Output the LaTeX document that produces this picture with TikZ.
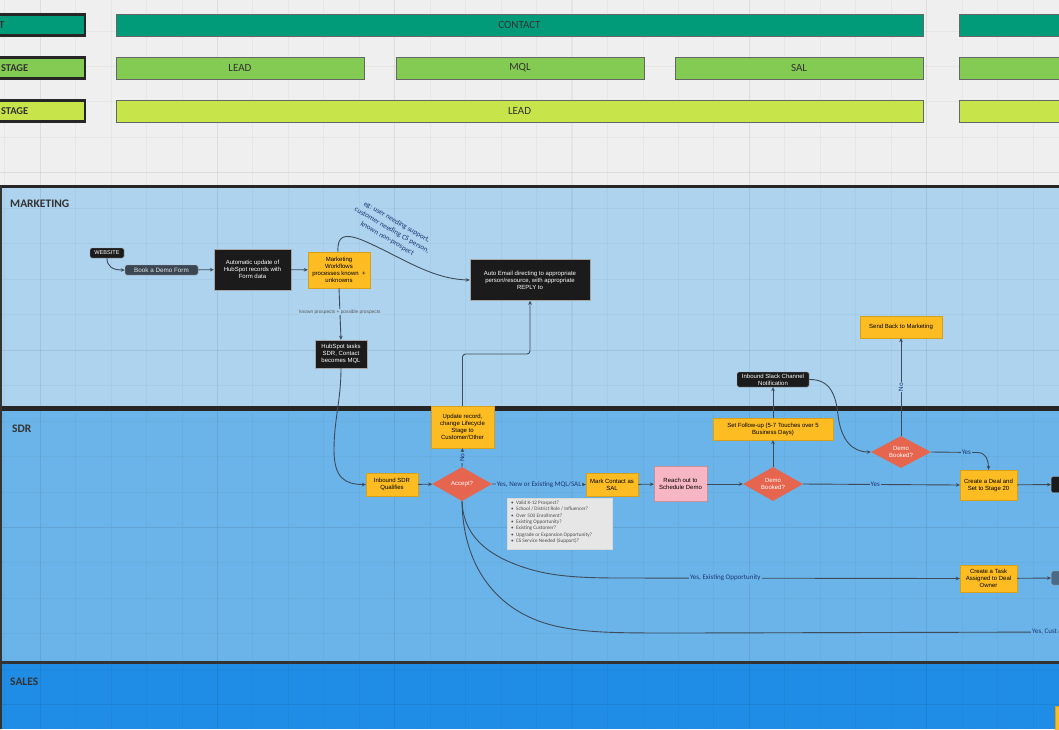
\documentclass[tikz,border=0pt]{standalone}
\usepackage{fontspec}
\setmainfont{Liberation Sans}
\newfontfamily\carl{Carlito}
\usetikzlibrary{shapes.geometric,arrows.meta}
\definecolor{bgc}{HTML}{EFEFEF}
\definecolor{tealc}{HTML}{019B7A}
\definecolor{grnc}{HTML}{83CB52}
\definecolor{limec}{HTML}{C8E44B}
\definecolor{mktc}{HTML}{ADD3EE}
\definecolor{sdrc}{HTML}{6BB4E9}
\definecolor{salc}{HTML}{1F8DE6}
\definecolor{orc}{HTML}{FCBC22}
\definecolor{blkc}{HTML}{1B1B1B}
\definecolor{dgc}{HTML}{3A4652}
\definecolor{redc}{HTML}{E5654F}
\definecolor{pinkc}{HTML}{F6B6C3}
\definecolor{lstc}{HTML}{E6E6E6}
\definecolor{lnc}{HTML}{3D4B5A}
\definecolor{lblc}{HTML}{1E3572}
\definecolor{txc}{HTML}{333333}
\definecolor{slatec}{HTML}{4A6A86}
\begin{document}
\begin{tikzpicture}[x=1pt,y=-1pt,
  nt/.style={font=\fontsize{6}{7}\selectfont, align=center, inner sep=1pt},
  obox/.style={nt, fill=orc, draw=orc!85!black, line width=0.3pt},
  kbox/.style={nt, fill=blkc, draw=gray!70, line width=0.4pt, text=white},
  dia/.style={diamond, nt, fill=redc, text=white, inner sep=0pt, aspect=1.76, minimum width=60, minimum height=34},
  bar/.style={draw=black!60, line width=0.8pt, text=txc, font=\carl\fontsize{11}{13}\selectfont, minimum height=22, inner sep=0pt},
  lbox/.style={draw=black!85, line width=2.5pt, minimum height=21, minimum width=95, inner sep=0pt},
  lbtxt/.style={font=\carl\bfseries\fontsize{10.5}{12}\selectfont, text=txc, anchor=east, inner sep=0pt},
  lane/.style={font=\carl\bfseries\fontsize{11.5}{13}\selectfont, text=black!80, anchor=west, inner sep=0pt},
  arr/.style={draw=lnc, line width=0.9pt, -{Stealth[length=4pt,width=3.6pt]}},
  ln/.style={draw=lnc, line width=0.9pt},
  elab/.style={font=\carl\fontsize{7}{8}\selectfont, text=lblc, inner sep=1pt},
]
\useasboundingbox (0,0) rectangle (1059,729);
\clip (0,0) rectangle (1059,729);
\fill[bgc] (0,0) rectangle (1059,729);
% lanes
\fill[mktc] (0,186) rectangle (1059,406);
\fill[sdrc] (0,406) rectangle (1059,662);
\fill[salc] (0,662) rectangle (1059,729);
% grid
\foreach \i in {-1,...,30} {\draw[black, opacity=0.03, line width=0.6pt] ({40+35.46*\i},0) -- ({40+35.46*\i},729);}
\foreach \i in {0,...,5} {\draw[black, opacity=0.045, line width=1pt] ({40+177.3*\i},0) -- ({40+177.3*\i},729);}
\foreach \i in {-10,...,11} {\draw[black, opacity=0.03, line width=0.6pt] (0,{350+35.46*\i}) -- (1059,{350+35.46*\i});}
\foreach \i in {-1,...,2} {\draw[black, opacity=0.045, line width=1pt] (0,{350+177.3*\i}) -- (1059,{350+177.3*\i});}
% lane borders
\draw[black!85, line width=3pt] (0,186.5) -- (1059,186.5);
\draw[black!85, line width=5pt] (0,408.5) -- (1059,408.5);
\draw[black!80, line width=3.5pt] (0,662.5) -- (1059,662.5);
\draw[black!80, line width=2pt] (1,186) -- (1,729);
\node[lane] (lm) at (10,203.5) {MARKETING};
\node[lane] (ls) at (12,428.5) {SDR};
\node[lane] (lsa) at (10,681.5) {SALES};
% top bars
\node[lbox, fill=tealc] (l1) at (37.5,25) {};
\node[lbtxt] (l1t) at (4.5,25) {T};
\node[lbox, fill=grnc] (l2) at (37.5,68) {};
\node[lbtxt] (l2t) at (28.5,68) {STAGE};
\node[lbox, fill=limec] (l3) at (37.5,111) {};
\node[lbtxt] (l3t) at (28.5,111) {STAGE};
\node[bar, fill=tealc, minimum width=807] (b1) at (519.5,25) {CONTACT};
\node[bar, fill=tealc, minimum width=110] (b1r) at (1014,25) {};
\node[bar, fill=grnc, minimum width=248] (b21) at (240,68) {LEAD};
\node[bar, fill=grnc, minimum width=248] (b22) at (520,68) {MQL};
\node[bar, fill=grnc, minimum width=248] (b23) at (799,68) {SAL};
\node[bar, fill=grnc, minimum width=110] (b2r) at (1014,68) {};
\node[bar, fill=limec, minimum width=807] (b3) at (519.5,111) {LEAD};
\node[bar, fill=limec, minimum width=110] (b3r) at (1014,111) {};
% marketing nodes
\node[kbox, rounded corners=1.5pt, minimum width=34, minimum height=10, inner sep=0.5pt, font=\fontsize{5.6}{6}\selectfont] (web) at (107,253) {WEBSITE};
\node[nt, fill=dgc, draw=gray!60, line width=0.4pt, rounded corners=1.5pt, text=white!90!black, minimum width=73, minimum height=10, inner sep=0.5pt, font=\fontsize{6.3}{7}\selectfont] (book) at (161.5,270) {Book a Demo Form};
\node[kbox, minimum width=77, minimum height=41] (auto) at (252.5,269.5) {Automatic update of\\HubSpot records with\\Form data};
\node[obox, minimum width=62, minimum height=36] (mw) at (339,270) {Marketing\\Workflows\\processes known \ +\\unknowns};
\node[kbox, minimum width=120, minimum height=41] (ae) at (530,280) {Auto Email directing to appropriate\\person/resource, with appropriate\\REPLY to};
\node[kbox, minimum width=52, minimum height=28] (hs) at (341,354) {HubSpot tasks\\SDR, Contact\\becomes MQL};
\node[obox, minimum width=82, minimum height=22] (sb) at (901,327) {Send Back to Marketing};
\node[kbox, rounded corners=1.5pt, minimum width=72, minimum height=15, inner sep=0.5pt] (slack) at (773,379.5) {Inbound Slack Channel\\Notification};
\node[font=\carl\fontsize{7.2}{9.6}\selectfont, text=lblc, rotate=-30, align=center, inner sep=0pt] (ann) at (392,230.5) {eg: user needing support,\\customer needing CS person,\\known non-prospect};
% SDR nodes
\node[obox, minimum width=63, minimum height=42] (ur) at (462.5,427) {Update record,\\change Lifecycle\\Stage to\\Customer/Other};
\node[obox, minimum width=52, minimum height=23] (isq) at (392,484.5) {Inbound SDR\\Qualifies};
\node[dia] (acc) at (462,484) {Accept?};
\node[obox, minimum width=52, minimum height=23] (mc) at (612,484.5) {Mark Contact as\\SAL};
\node[nt, fill=pinkc, draw=pinkc!80!black, line width=0.3pt, minimum width=53, minimum height=35] (ro) at (680.5,484) {Reach out to\\Schedule Demo};
\node[dia] (d1) at (773,484) {Demo\\Booked?};
\node[obox, minimum width=120, minimum height=22] (sf) at (773,429) {Set Follow-up (5-7 Touches over 5\\Business Days)};
\node[dia, minimum height=32] (d2) at (901,452) {Demo\\Booked?};
\node[obox, minimum width=57, minimum height=30] (cd) at (988.5,485) {Create a Deal and\\Set to Stage 20};
\node[obox, minimum width=57, minimum height=27] (ct) at (988.5,578.5) {Create a Task\\Assigned to Deal\\Owner};
\node[kbox, rounded corners=1.5pt, minimum width=16, minimum height=16, anchor=west, inner sep=0pt] (nx1) at (1051,484.5) {};
\node[nt, fill=slatec, draw=gray!60, rounded corners=1.5pt, minimum width=16, minimum height=14, anchor=west, inner sep=0pt] (nx2) at (1051,578) {};
\node[obox, anchor=north west, minimum width=12, minimum height=30, inner sep=0pt] (nx3) at (1055,706) {};
% list box
\node[draw=black!15, fill=lstc, anchor=north west, minimum width=105, minimum height=51, inner sep=0pt] (lst) at (507,498) {};
\node[anchor=north west, align=left, font=\carl\fontsize{5.2}{6.4}\selectfont, text=black!70, inner sep=0pt] (lstt) at (511,500.5) {•\ \ Valid K-12 Prospect?\\•\ \ School / District Role / Influencer?\\•\ \ Over 500 Enrollment?\\•\ \ Existing Opportunity?\\•\ \ Existing Customer?\\•\ \ Upgrade or Expansion Opportunity?\\•\ \ CS Service Needed (Support)?};
% connectors
\draw[arr] (web.south) .. controls (107,266) and (112,270) .. (book.west);
\draw[arr] (book) -- (auto);
\draw[arr] (auto) -- (mw);
\draw[arr] ([xshift=-1pt]mw.north) .. controls (337,236) and (344,233) .. (362,240) .. controls (400,256) and (430,279) .. (ae.west);
\draw[arr] (mw.south) -- node[pos=0.46, fill=mktc, inner sep=0.8pt, font=\fontsize{4.8}{5.5}\selectfont, text=black!65] {known prospects + possible prospects} (hs.north);
\draw[arr] (hs.south) .. controls (341,400) and (334,420) .. (334,450) .. controls (334,478) and (345,484.5) .. (isq.west);
\draw[arr] (isq) -- (acc);
\draw[arr] (acc.north) -- node[elab, fill=sdrc, rotate=90]{No} (ur.south);
\draw[arr, rounded corners=3pt] (ur.north) -- (462.5,354) -- (530,354) -- (ae.south);
\draw[arr] (acc.east) -- node[elab, fill=sdrc]{Yes, New or Existing MQL/SAL} (mc.west);
\draw[arr] (mc) -- (ro);
\draw[arr] (ro) -- (d1);
\draw[arr] (d1.north) -- (sf.south);
\draw[arr] (sf.north) -- (slack.south);
\draw[arr] (slack.east) .. controls (830,379) and (836,395) .. (838,415) .. controls (841,440) and (852,452) .. (d2.west);
\draw[arr] (d2.north) -- node[elab, fill=mktc, rotate=90, pos=0.5]{No} (sb.south);
\draw[arr] (d2.east) -- node[elab, fill=sdrc, pos=0.75]{Yes} (978,452.5) .. controls (986,453) and (988.5,460) .. (cd.north);
\draw[arr] (d1.east) -- node[elab, fill=sdrc, pos=0.46]{Yes} (cd.west);
\draw[arr] (cd) -- (nx1);
\draw[arr] (ct) -- (nx2);
\draw[arr] (acc.south) .. controls (463,530) and (480,552) .. (520,566) .. controls (545,575) and (570,578) .. (620,578) -- node[elab, fill=sdrc, pos=0.31]{Yes, Existing Opportunity} (ct.west);
\coordinate (cend) at (1070,632);
\draw[ln] (acc.south) .. controls (463,570) and (500,615) .. (560,627) .. controls (590,633) and (620,633) .. (680,633) -- (cend);
\node[elab, fill=sdrc, anchor=west] (cl) at (1031,632) {Yes, Cust};
\end{tikzpicture}
\end{document}
